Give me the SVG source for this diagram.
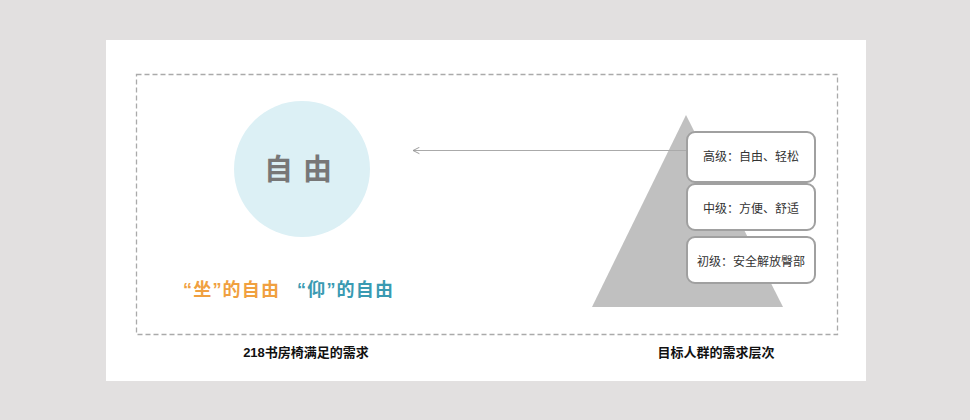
<svg xmlns="http://www.w3.org/2000/svg" width="970" height="420" viewBox="0 0 970 420">
<style>
text{font-family:"Liberation Sans","Noto Sans CJK SC",sans-serif}
.fl{font-size:18px;font-weight:bold;letter-spacing:1.2px}
.box{fill:#fff;stroke:#a0a0a0;stroke-width:2}
.bt{font-size:12px;fill:#333;text-anchor:middle}
.cap{font-size:13px;font-weight:bold;fill:#111;text-anchor:middle}
</style>
<defs>
<marker id="ah" viewBox="0 0 10 10" refX="9" refY="5" markerWidth="8" markerHeight="8" orient="auto" markerUnits="userSpaceOnUse">
<path d="M1,1 L9,5 L1,9" fill="none" stroke="#999" stroke-width="1.2"/>
</marker>
</defs>
<rect x="0" y="0" width="970" height="420" fill="#e2e0e0"/>
<rect x="106" y="40" width="760" height="341" fill="#fff"/>
<rect x="136.5" y="74.5" width="701" height="260" fill="none" stroke="#aaa" stroke-width="1.3" stroke-dasharray="5,3"/>
<g id="circle-node">
<circle cx="302" cy="169" r="68" fill="#dcf0f5"/>
<text x="303" y="180" font-size="29" font-weight="bold" fill="#777" text-anchor="middle" letter-spacing="10">自由</text>
</g>
<g id="freedom-labels">
<text class="fl" x="183" y="296" fill="#f0a040">“坐”的自由</text>
<text class="fl" x="297" y="296" fill="#3a9ab2">“仰”的自由</text>
</g>
<g id="pyramid">
<polygon points="686,115 592,307 783,307" fill="#c0c0c0"/>
</g>
<g id="connectors">
<line x1="687" y1="150.5" x2="413" y2="150.5" stroke="#aaa" stroke-width="1.2" marker-end="url(#ah)"/>
</g>
<g id="level-high">
<rect class="box" x="687" y="132" width="128" height="50" rx="8"/>
<text class="bt" x="751" y="161">高级：自由、轻松</text>
</g>
<g id="level-mid">
<rect class="box" x="687" y="184" width="128" height="46" rx="8"/>
<text class="bt" x="751" y="213">中级：方便、舒适</text>
</g>
<g id="level-low">
<rect class="box" x="687" y="237" width="128" height="46" rx="8"/>
<text class="bt" x="751" y="266">初级：安全解放臀部</text>
</g>
<text class="cap" x="306" y="357">218书房椅满足的需求</text>
<text class="cap" x="716" y="357">目标人群的需求层次</text>
</svg>
